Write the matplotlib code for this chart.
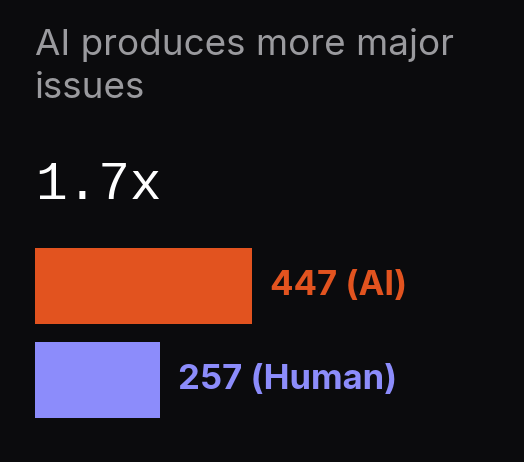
import matplotlib
matplotlib.use('Agg')
import matplotlib.pyplot as plt

# data
labels = ['447 (AI)', '257 (Human)']
values = [447, 257]
colors = ['#E2531F', '#8C8CFB']
title = 'AI produces more major\nissues'
headline = '1.7x'

W, H = 524, 462
fig = plt.figure(figsize=(W / 100, H / 100), dpi=100)
fig.patch.set_facecolor('#0b0b0d')

fig.text(35 / W, 1 - 28 / H, title, color='#9a9a9e', fontsize=26.5,
         family='Inter', va='top', ha='left', linespacing=1.4)
fig.text(35 / W, 1 - 185 / H, headline, color='white', fontsize=38,
         family='Liberation Mono', va='center', ha='left')

# axes from x=35px to right edge, y=248..418px
ax = fig.add_axes([35 / W, (H - 418) / H, (W - 35) / W, 170 / H])
ax.set_facecolor('#0b0b0d')
xmax = 447 * (W - 35) / 217
ax.set_xlim(0, xmax)
ax.set_ylim(0, 170)
centers = [132, 38]
ax.barh(centers, values, height=76, color=colors, left=0)
pad = 18 * xmax / (W - 35)
for c, v, lab, col in zip(centers, values, labels, colors):
    ax.text(v + pad, c, lab, color=col, fontsize=25, fontweight='bold',
            family='Inter', va='center', ha='left')
ax.axis('off')

fig.savefig('out.png', dpi=100, facecolor=fig.get_facecolor())
